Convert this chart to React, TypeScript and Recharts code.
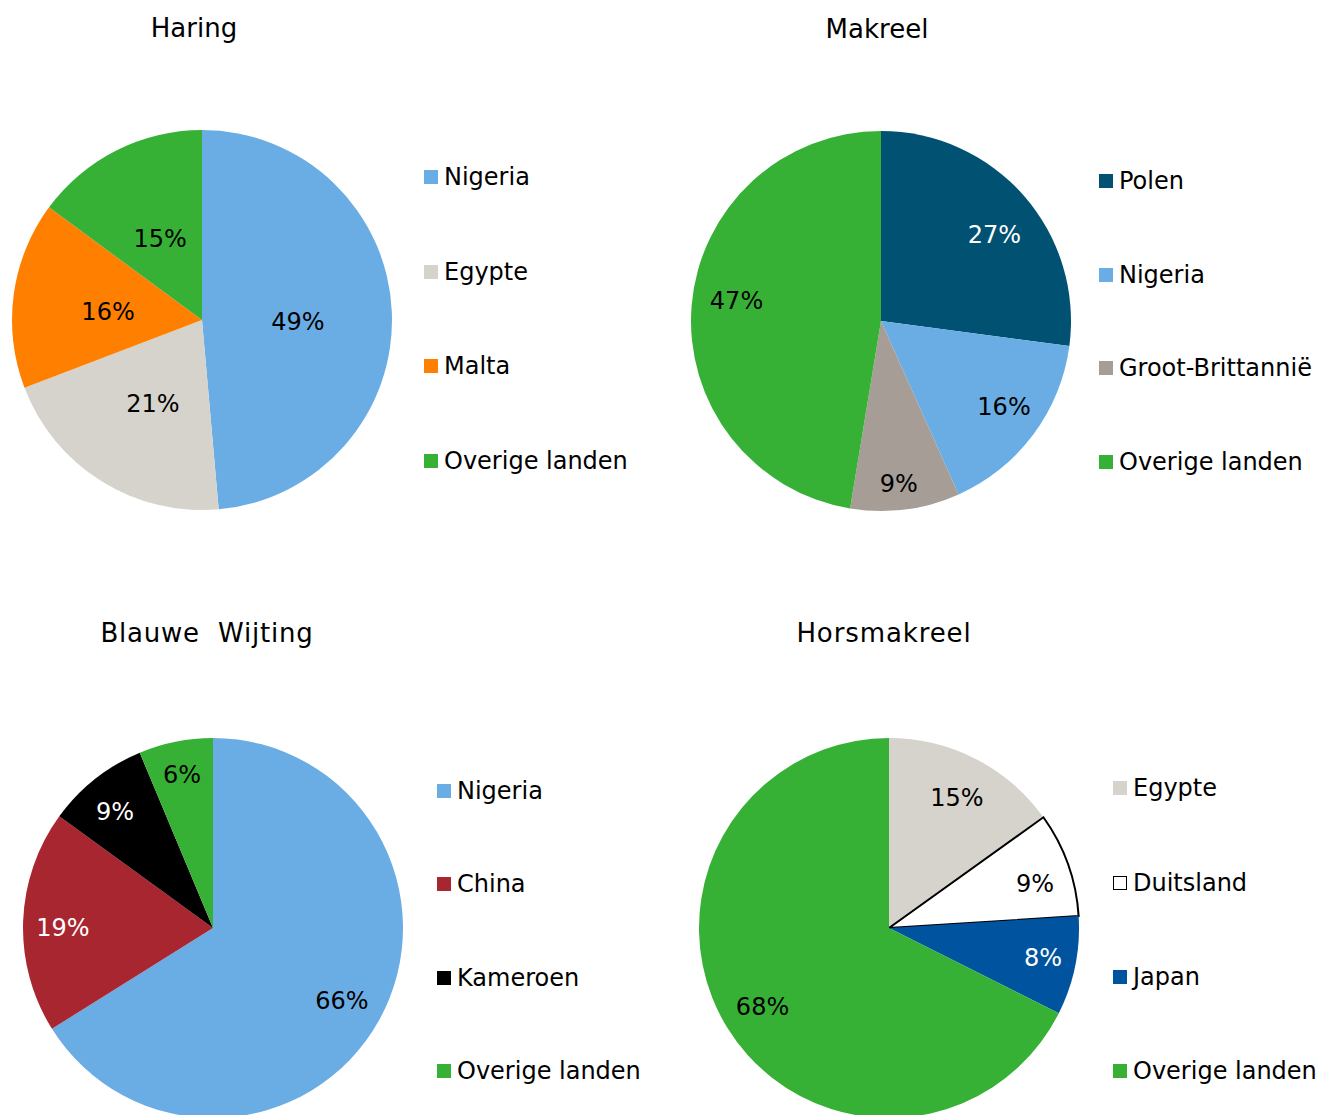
import React from 'react';
import { PieChart, Pie, Cell, Legend } from 'recharts';

// values (shares, %)
const haringNames = ['Nigeria', 'Egypte', 'Malta', 'Overige landen'];
const haringValues = [48.6, 20.6, 15.9, 14.9];

const makreelNames = ['Polen', 'Nigeria', 'Groot-Brittannië', 'Overige landen'];
const makreelValues = [27.1, 16.2, 9.3, 47.4];

const wijtingNames = ['Nigeria', 'China', 'Kameroen', 'Overige landen'];
const wijtingValues = [66.1, 18.9, 8.7, 6.3];

const horsNames = ['Egypte', 'Duitsland', 'Japan', 'Overige landen'];
const horsValues = [15.1, 8.9, 8.4, 67.6];

const COLORS: Record<string, string> = {
  Nigeria: '#6aade4',
  Egypte: '#d5d3cb',
  Malta: '#ff7f00',
  'Overige landen': '#36b136',
  Polen: '#005172',
  'Groot-Brittannië': '#a59d96',
  China: '#a8262f',
  Kameroen: '#000000',
  Duitsland: '#ffffff',
  Japan: '#00549f',
};

const WHITE_LABEL = ['Polen', 'China', 'Kameroen', 'Japan'];

const FONT = '"DejaVu Sans", Verdana, sans-serif';
const RAD = Math.PI / 180;

interface PanelProps {
  title: string;
  titleLetterSpacing?: number;
  names: string[];
  values: number[];
  left: number;
  top: number;
  cx: number;
  cy: number;
  titleX: number;
  titleY: number;
  // label placement per slice: [radius, angle tweak in degrees (clockwise)]
  labelPos: [number, number][];
  legendX: number;
  legendY: number[];
}

const PiePanel: React.FC<PanelProps> = (p) => {
  const data = p.names.map((name, i) => ({ name, value: p.values[i] }));

  const renderLabel = (props: any) => {
    const { cx, cy, midAngle, percent, index } = props;
    const [r, tweak] = p.labelPos[index];
    const a = (midAngle - tweak) * RAD;
    const x = cx + r * Math.cos(-a);
    const y = cy + r * Math.sin(-a);
    const name = p.names[index];
    return (
      <text
        x={x}
        y={y + 8.7}
        textAnchor="middle"
        fill={WHITE_LABEL.includes(name) ? '#ffffff' : '#000000'}
        fontFamily={FONT}
        fontSize={24}
      >
        {`${Math.round(percent * 100)}%`}
      </text>
    );
  };

  const renderLegend = () => (
    <div style={{ position: 'relative', width: 0, height: 0 }}>
      {p.names.map((name, i) => (
        <div
          key={name}
          style={{
            position: 'absolute',
            left: 0,
            top: p.legendY[i] - 15,
            height: 30,
            display: 'flex',
            alignItems: 'center',
            whiteSpace: 'nowrap',
            fontFamily: FONT,
            fontSize: 24,
            color: '#000',
          }}
        >
          <span
            style={{
              display: 'inline-block',
              width: 14,
              height: 14,
              boxSizing: 'border-box',
              background: COLORS[name],
              border: name === 'Duitsland' ? '1.5px solid #000' : 'none',
              marginRight: 6,
            }}
          />
          {name}
        </div>
      ))}
    </div>
  );

  return (
    <div style={{ position: 'absolute', left: p.left, top: p.top, width: 659, height: 557 }}>
      <div
        style={{
          position: 'absolute',
          left: p.titleX - 200,
          width: 400,
          top: p.titleY - 16,
          lineHeight: '32px',
          textAlign: 'center',
          fontFamily: FONT,
          fontSize: 26,
          color: '#000',
          whiteSpace: 'pre',
          letterSpacing: p.titleLetterSpacing ?? 0,
        }}
      >
        {p.title}
      </div>
      <PieChart
        width={659}
        height={557}
        margin={{ top: 0, right: 0, bottom: 0, left: 0 }}
        style={{ position: 'absolute', left: 0, top: 0 }}
      >
        <Pie
          data={data}
          dataKey="value"
          nameKey="name"
          cx={p.cx}
          cy={p.cy}
          outerRadius={190}
          startAngle={90}
          endAngle={-270}
          label={renderLabel}
          labelLine={false}
          isAnimationActive={false}
        >
          {data.map((d) => (
            <Cell
              key={d.name}
              fill={COLORS[d.name]}
              stroke={d.name === 'Duitsland' ? '#000' : 'none'}
              strokeWidth={d.name === 'Duitsland' ? 2 : 0}
            />
          ))}
        </Pie>
        <Legend
          content={renderLegend}
          wrapperStyle={{ position: 'absolute', left: p.legendX, top: 0, width: 0, height: 0 }}
        />
      </PieChart>
    </div>
  );
};

export default function App() {
  return (
    <div
      style={{
        position: 'absolute',
        left: 0,
        top: 0,
        width: 1317,
        height: 1115,
        overflow: 'hidden',
        background: '#fff',
      }}
    >
      <PiePanel
        title="Haring"
        names={haringNames}
        values={haringValues}
        left={0}
        top={0}
        cx={202}
        cy={320}
        titleX={194}
        titleY={28}
        labelPos={[[96, 3.1], [97, -1.7], [94.4, -2.2], [92, -0.3]]}
        legendX={424}
        legendY={[177, 272, 366, 461]}
      />
      <PiePanel
        title="Makreel"
        names={makreelNames}
        values={makreelValues}
        left={658}
        top={0}
        cx={223}
        cy={321}
        titleX={219}
        titleY={29}
        labelPos={[[143, 3.7], [149.5, -2.1], [163.5, 1.1], [146, 3.6]]}
        legendX={441}
        legendY={[181, 275, 368, 462]}
      />
      <PiePanel
        title={'Blauwe  Wijting'}
        titleLetterSpacing={0.8}
        names={wijtingNames}
        values={wijtingValues}
        left={0}
        top={558}
        cx={213}
        cy={370}
        titleX={207}
        titleY={75}
        labelPos={[[147.7, 0.2], [150, -1.6], [152.6, -1.6], [157, 0]]}
        legendX={437}
        legendY={[233, 326, 420, 513]}
      />
      <PiePanel
        title="Horsmakreel"
        titleLetterSpacing={0.9}
        names={horsNames}
        values={horsValues}
        left={658}
        top={558}
        cx={231}
        cy={370}
        titleX={226}
        titleY={75}
        labelPos={[[147.6, 0.2], [152.8, 2.5], [156.8, -0.7], [148.6, 0]]}
        legendX={455}
        legendY={[230, 325, 419, 513]}
      />
    </div>
  );
}
